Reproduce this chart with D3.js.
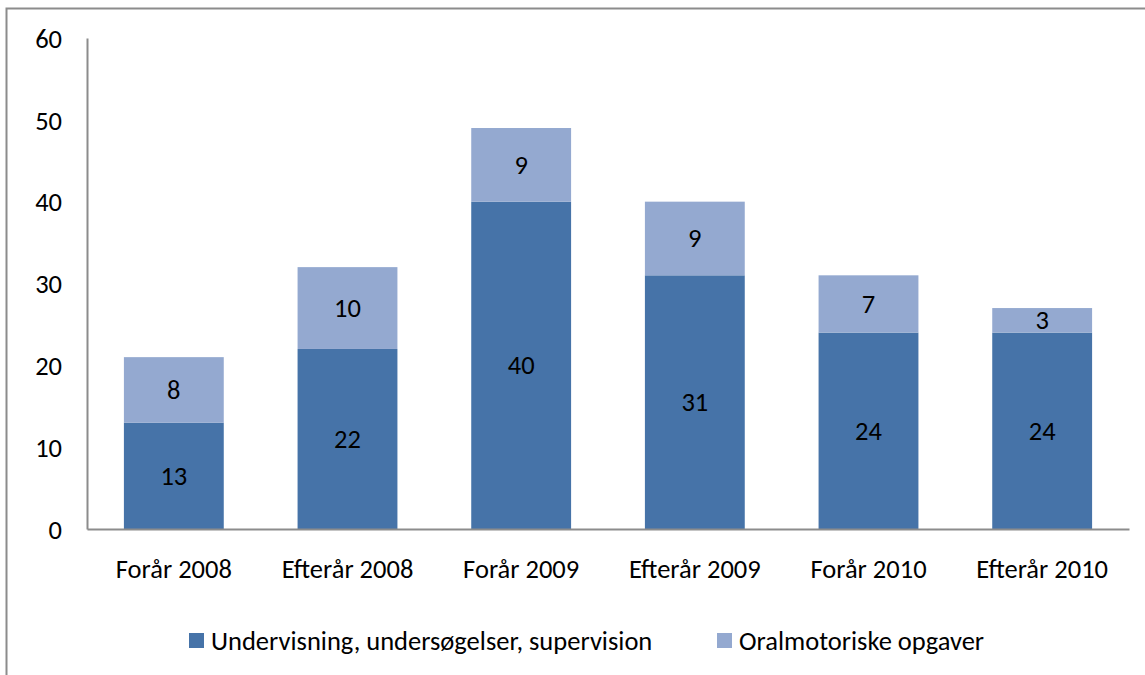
<!DOCTYPE html>
<html>
<head>
<meta charset="utf-8">
<script src="https://cdn.jsdelivr.net/npm/d3@7"></script>
<style>
  body { margin: 0; background: #fff; }
  text { font-family: Carlito, Lato, "Open Sans", sans-serif; fill: #000; }
</style>
</head>
<body>
<svg id="chart" width="1145" height="675"></svg>
<script>
// Chart data
const categories = ['Forår 2008', 'Efterår 2008', 'Forår 2009', 'Efterår 2009', 'Forår 2010', 'Efterår 2010'];
const undervisning = [13, 22, 40, 31, 24, 24];
const oralmotorik = [8, 10, 9, 9, 7, 3];
const seriesNames = ['Undervisning, undersøgelser, supervision', 'Oralmotoriske opgaver'];
const seriesColors = ['#4673a8', '#94a9d0'];
const yTicks = [0, 10, 20, 30, 40, 50, 60];

const fontSize = '26.5px';
const svg = d3.select('#chart');

// outer frame of the chart
svg.append('rect')
    .attr('x', 6.5).attr('y', 8.5)
    .attr('width', 1150).attr('height', 680)
    .attr('fill', 'none')
    .attr('stroke', '#8c8c8c')
    .attr('stroke-width', 2);

const x = d3.scaleBand()
    .domain(categories)
    .range([87, 1129])
    .paddingInner(0.425)
    .paddingOuter(0.2125);

const y = d3.scaleLinear()
    .domain([0, 60])
    .range([529, 38]);

// stack the two series
const rows = categories.map((c, i) => ({ cat: c, a: undervisning[i], b: oralmotorik[i] }));
const stacked = d3.stack().keys(['a', 'b'])(rows);

const layers = svg.selectAll('g.layer')
    .data(stacked)
    .enter()
    .append('g')
    .attr('class', 'layer')
    .attr('fill', (d, i) => seriesColors[i]);

layers.selectAll('rect')
    .data(d => d)
    .enter()
    .append('rect')
    .attr('x', d => x(d.data.cat))
    .attr('y', d => y(d[1]))
    .attr('width', x.bandwidth())
    .attr('height', d => y(d[0]) - y(d[1]));

// value labels in the middle of each segment
layers.selectAll('text')
    .data(d => d)
    .enter()
    .append('text')
    .attr('x', d => x(d.data.cat) + x.bandwidth() / 2)
    .attr('y', d => (y(d[0]) + y(d[1])) / 2)
    .attr('text-anchor', 'middle')
    .attr('dominant-baseline', 'central')
    .style('font-size', fontSize)
    .text(d => d[1] - d[0]);

// y axis
const yAxis = svg.append('g')
    .attr('transform', 'translate(87,0)')
    .call(d3.axisLeft(y).tickValues(yTicks).tickSize(0).tickPadding(25));
yAxis.select('.domain').attr('stroke', '#8c8c8c').attr('stroke-width', 2);
yAxis.selectAll('text').style('font-size', fontSize).attr('dy', '0.35em');

// x axis
const xAxis = svg.append('g')
    .attr('transform', 'translate(0,529)')
    .call(d3.axisBottom(x).tickSize(0).tickPadding(30));
xAxis.select('.domain').attr('stroke', '#8c8c8c').attr('stroke-width', 2);
xAxis.selectAll('text').style('font-size', fontSize);

// legend
const legendItems = [
    { name: seriesNames[0], color: seriesColors[0], x: 189 },
    { name: seriesNames[1], color: seriesColors[1], x: 717 }
];
const legend = svg.selectAll('g.legend')
    .data(legendItems)
    .enter()
    .append('g')
    .attr('class', 'legend')
    .attr('transform', d => `translate(${d.x},633)`);
legend.append('rect')
    .attr('width', 15).attr('height', 15)
    .attr('fill', d => d.color);
legend.append('text')
    .attr('x', 22).attr('y', 8)
    .attr('dominant-baseline', 'central')
    .style('font-size', fontSize)
    .text(d => d.name);
</script>
</body>
</html>
